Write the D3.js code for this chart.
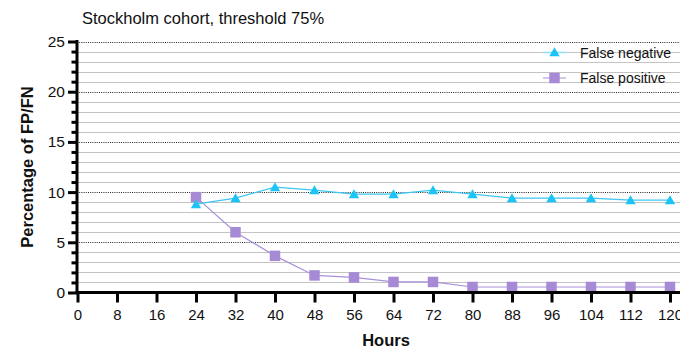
<!DOCTYPE html>
<html>
<head>
<meta charset="utf-8">
<script src="https://cdn.jsdelivr.net/npm/d3@7"></script>
<style>
  html, body { margin: 0; padding: 0; background: #fff; }
  svg { display: block; font-family: "Liberation Sans", Arial, Helvetica, sans-serif; }
</style>
</head>
<body>
<svg id="chart" width="680" height="352"></svg>
<script>
// Sampling times (hours) and error rates (%)
const hours = [24, 32, 40, 48, 56, 64, 72, 80, 88, 96, 104, 112, 120];
const falseNegative = [8.8, 9.4, 10.5, 10.2, 9.8, 9.8, 10.2, 9.8, 9.4, 9.4, 9.4, 9.2, 9.2];
const falsePositive = [9.5, 6.0, 3.65, 1.7, 1.5, 1.05, 1.05, 0.55, 0.55, 0.55, 0.55, 0.55, 0.55];
const xTicks = [0, 8, 16, 24, 32, 40, 48, 56, 64, 72, 80, 88, 96, 104, 112, 120];
const yMajorTicks = [0, 5, 10, 15, 20, 25];
const yMinorTicks = d3.range(0, 26).filter(v => v % 5 !== 0);
const seriesNames = ["False negative", "False positive"];
const titleText = "Stockholm cohort, threshold 75%";

const svg = d3.select("#chart");
const W = 680, H = 352;
const axisX = 77, axisY = 292.5;

const x = d3.scaleLinear().domain([0, 120]).range([77.5, 670]);
const y = d3.scaleLinear().domain([0, 25]).range([axisY, 41.5]);

const cyan = "#1cc3f5", cyanLine = "#3cc6f3";
const purple = "#a68ad6", purpleLine = "#a890da";

// Horizontal grid: light solid lines at every unit, dotted at majors
const grid = svg.append("g");
grid.selectAll("line.minor").data(yMinorTicks).join("line")
  .attr("x1", axisX).attr("x2", W)
  .attr("y1", d => Math.round(y(d)) + 0.5).attr("y2", d => Math.round(y(d)) + 0.5)
  .attr("stroke", "#c4c4c4").attr("stroke-width", 1.2);
grid.selectAll("line.major").data(yMajorTicks.filter(d => d > 0)).join("line")
  .attr("x1", axisX).attr("x2", W)
  .attr("y1", d => Math.round(y(d)) + 0.5).attr("y2", d => Math.round(y(d)) + 0.5)
  .attr("stroke", "#222").attr("stroke-width", 1).attr("stroke-dasharray", "1,1.2");

// Series lines
const line = d3.line().x(d => x(d[0])).y(d => y(d[1]));
const fnData = hours.map((h, i) => [h, falseNegative[i]]);
const fpData = hours.map((h, i) => [h, falsePositive[i]]);

svg.append("path").datum(fpData).attr("d", line)
  .attr("fill", "none").attr("stroke", purpleLine).attr("stroke-width", 1.2);
svg.append("path").datum(fnData).attr("d", line)
  .attr("fill", "none").attr("stroke", cyanLine).attr("stroke-width", 1.2);

// Marker shapes (bounding box centred on the point)
const triPath = "M0,-4.8L5.2,4.2L-5.2,4.2Z";
const sq = 10.5;

svg.append("g").selectAll("rect").data(fpData).join("rect")
  .attr("x", d => x(d[0]) - sq / 2).attr("y", d => y(d[1]) - sq / 2)
  .attr("width", sq).attr("height", sq).attr("fill", purple);
svg.append("g").selectAll("path").data(fnData).join("path")
  .attr("d", triPath)
  .attr("transform", d => `translate(${x(d[0])},${y(d[1])})`)
  .attr("fill", cyan);

// Y axis: major ticks with labels, minor ticks without
const yAxis = svg.append("g").attr("transform", `translate(${axisX},0)`)
  .call(d3.axisLeft(y).tickValues(yMajorTicks).tickSize(9).tickPadding(3).tickSizeOuter(0));
yAxis.selectAll(".tick line").attr("stroke", "#000").attr("stroke-width", 3);
yAxis.selectAll(".tick text").attr("font-size", 15.5).attr("fill", "#111")
  .attr("font-family", "'Liberation Sans', Arial, sans-serif");
yAxis.select(".domain").remove();

const yMinor = svg.append("g").attr("transform", `translate(${axisX},0)`)
  .call(d3.axisLeft(y).tickValues(yMinorTicks).tickSize(5.5).tickFormat(""));
yMinor.selectAll(".tick line").attr("stroke", "#000").attr("stroke-width", 3);
yMinor.select(".domain").remove();

// X axis
const xAxis = svg.append("g").attr("transform", `translate(0,${axisY})`)
  .call(d3.axisBottom(x).tickValues(xTicks).tickSize(10).tickPadding(7).tickSizeOuter(0));
xAxis.selectAll(".tick line").attr("stroke", "#000").attr("stroke-width", 3);
xAxis.selectAll(".tick text").attr("font-size", 15).attr("fill", "#111")
  .attr("font-family", "'Liberation Sans', Arial, sans-serif");
xAxis.select(".domain").remove();

// Thick axis lines
svg.append("line").attr("x1", axisX).attr("x2", axisX)
  .attr("y1", y(25) - 1.5).attr("y2", axisY + 1.5)
  .attr("stroke", "#000").attr("stroke-width", 3);
svg.append("line").attr("x1", axisX - 1.5).attr("x2", W)
  .attr("y1", axisY).attr("y2", axisY)
  .attr("stroke", "#000").attr("stroke-width", 3);

// Titles
svg.append("text").attr("x", 82).attr("y", 24)
  .attr("font-size", 16.5).attr("fill", "#111").text(titleText);
svg.append("text").attr("x", 386).attr("y", 346).attr("text-anchor", "middle")
  .attr("font-size", 16.5).attr("font-weight", "bold").attr("fill", "#111").text("Hours");
svg.append("text")
  .attr("transform", `translate(33,${(y(0) + y(25)) / 2}) rotate(-90)`)
  .attr("text-anchor", "middle")
  .attr("font-size", 16.5).attr("font-weight", "bold").attr("fill", "#111")
  .text("Percentage of FP/FN");

// Legend
const legend = svg.append("g");
const legendRows = [
  { name: seriesNames[0], color: cyan, lineColor: "#8edcf7", shape: "tri", y: 52.5 },
  { name: seriesNames[1], color: purple, lineColor: "#c4b2e6", shape: "sq", y: 78 }
];
legendRows.forEach(r => {
  legend.append("line").attr("x1", 543).attr("x2", 566)
    .attr("y1", r.y).attr("y2", r.y).attr("stroke", r.lineColor).attr("stroke-width", 1.5);
  if (r.shape === "tri") {
    legend.append("path").attr("d", triPath)
      .attr("transform", `translate(554.5,${r.y - 0.5})`).attr("fill", r.color);
  } else {
    legend.append("rect").attr("x", 554.5 - 5.25).attr("y", r.y - 5.25)
      .attr("width", sq).attr("height", sq).attr("fill", r.color);
  }
  legend.append("text").attr("x", 580).attr("y", r.y + 5)
    .attr("font-size", 14).attr("fill", "#111").text(r.name);
});
</script>
</body>
</html>
